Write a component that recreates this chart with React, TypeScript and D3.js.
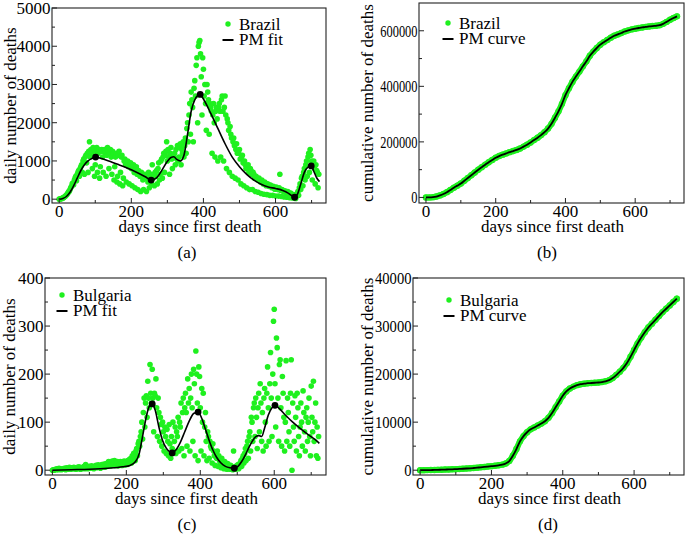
import React from 'react'
import * as d3 from 'd3'

type Pt = [number, number]

// daily series are sampled every DAY_STEP days, cumulative every CUM_STEP days
const DAY_STEP = 2
const CUM_STEP = 10

const dayTicks = [0, 200, 400, 600]
const dayMinorTicks = [100, 300, 500, 700]

const brazilDaily = [
  1, 5, 10, 15, 20, 30, 40, 55, 70, 90, 110, 130, 160, 190, 210,
  250, 300, 330, 400, 420, 380, 500, 550, 600, 480, 650, 700, 750, 600, 800,
  850, 900, 700, 1000, 1050, 650, 1100, 1150, 950, 1200, 700, 1250, 1500, 1100, 1300,
  1200, 800, 1350, 1300, 600, 900, 1250, 1350, 700, 1200, 1300, 550, 850, 1250, 1300,
  1100, 700, 1250, 1300, 1200, 600, 1150, 1350, 1250, 800, 1200, 1300, 1100, 650, 1250,
  1200, 500, 850, 1100, 1200, 450, 600, 1150, 1250, 400, 700, 1100, 1150, 350, 550,
  1000, 1050, 900, 450, 950, 1000, 850, 400, 900, 950, 800, 350, 850, 900, 700,
  300, 800, 850, 650, 250, 750, 700, 600, 200, 700, 650, 500, 250, 600, 650,
  550, 200, 600, 450, 700, 300, 500, 650, 400, 900, 550, 650, 350, 700, 600,
  750, 400, 800, 950, 500, 650, 1000, 1050, 550, 1100, 1200, 700, 1150, 1250, 1500,
  1000, 1300, 1100, 650, 1200, 1350, 1050, 800, 1150, 1100, 1200, 900, 1300, 1050, 1400,
  1000, 1100, 1350, 1450, 900, 1300, 1200, 1500, 1100, 1400, 1600, 1200, 1850, 2000, 1500,
  2200, 2500, 1700, 2800, 2600, 2400, 1500, 2900, 3100, 2700, 3500, 3700, 2000, 4000, 4100,
  4150, 3800, 3200, 2200, 3700, 3400, 2700, 3000, 2500, 1800, 3000, 2800, 2600, 1700, 2500,
  2400, 2300, 1200, 2200, 2500, 2000, 1100, 2300, 2400, 2100, 1000, 2400, 2500, 2300, 1100,
  2600, 2700, 2300, 1000, 2400, 2700, 2200, 800, 2100, 2000, 1800, 700, 1900, 1700, 1600,
  600, 1500, 1600, 1400, 550, 1300, 1450, 1200, 500, 1200, 1300, 1050, 400, 1100, 1150,
  950, 350, 1000, 900, 800, 300, 850, 900, 700, 250, 800, 750, 650, 250, 700,
  650, 550, 200, 600, 550, 500, 180, 550, 500, 450, 150, 500, 450, 400, 130,
  450, 400, 350, 120, 400, 380, 330, 100, 370, 330, 300, 100, 340, 300, 260,
  80, 320, 280, 250, 80, 300, 650, 230, 70, 250, 230, 200, 60, 220, 200,
  180, 50, 200, 170, 150, 40, 160, 130, 110, 30, 120, 100, 60, 20, 100,
  150, 200, 100, 300, 400, 250, 550, 600, 350, 700, 800, 500, 900, 1000, 600,
  1100, 1200, 700, 1300, 1150, 1000, 500, 950, 1000, 800, 400, 900, 750, 700, 300,
  650,
]

const bulgariaDaily = [
  0, 1, 0, 1, 2, 1, 3, 2, 1, 4, 2, 3, 1, 2, 3,
  2, 4, 3, 1, 5, 3, 2, 4, 6, 3, 2, 5, 4, 3, 6,
  3, 5, 2, 4, 6, 3, 7, 4, 2, 5, 3, 6, 4, 8, 3,
  12, 5, 7, 3, 6, 8, 4, 6, 9, 5, 7, 3, 8, 6, 10,
  5, 8, 11, 6, 9, 4, 10, 12, 7, 9, 13, 6, 11, 14, 8,
  12, 18, 10, 15, 9, 16, 19, 11, 14, 20, 10, 17, 13, 18, 9,
  15, 12, 18, 14, 10, 16, 13, 19, 11, 15, 17, 12, 20, 14, 22,
  18, 25, 15, 30, 22, 35, 28, 20, 40, 45, 30, 55, 60, 50, 70,
  80, 100, 65, 120, 150, 90, 140, 155, 110, 185, 150, 130, 220, 160, 140,
  210, 150, 80, 160, 155, 190, 130, 70, 150, 120, 60, 110, 95, 50, 100,
  80, 40, 90, 70, 35, 85, 60, 30, 95, 55, 25, 70, 45, 100, 40,
  60, 90, 35, 80, 70, 110, 40, 100, 90, 140, 45, 120, 150, 30, 130,
  160, 120, 50, 190, 140, 170, 40, 150, 200, 130, 60, 210, 180, 30, 248,
  200, 140, 20, 215, 195, 130, 40, 170, 100, 160, 30, 90, 120, 60, 20,
  80, 70, 25, 60, 50, 45, 15, 55, 40, 30, 10, 35, 25, 40, 8,
  30, 20, 15, 5, 25, 15, 10, 3, 18, 12, 8, 2, 14, 10, 6,
  2, 10, 8, 5, 1, 40, 6, 4, 2, 9, 7, 12, 3, 10, 15,
  20, 8, 25, 30, 15, 35, 45, 20, 50, 60, 25, 70, 80, 40, 110,
  100, 60, 130, 140, 70, 150, 110, 45, 130, 160, 80, 180, 140, 60, 120,
  40, 150, 170, 100, 50, 160, 215, 130, 60, 180, 245, 150, 70, 200, 310,
  335, 180, 90, 275, 255, 150, 60, 220, 230, 130, 50, 195, 160, 110, 40,
  100, 228, 60, 150, 120, 80, 50, 160, 230, 0, 140, 90, 60, 155, 110,
  40, 160, 130, 70, 30, 90, 140, 100, 50, 165, 120, 80, 40, 110, 130,
  60, 100, 150, 70, 30, 175, 110, 80, 185, 60, 100, 140, 30, 90, 25,
  70,
]

// PM fit (daily)
const brazilFitDays = [0, 10, 20, 30, 40, 50, 60, 70, 80, 90, 101, 110, 120, 140, 160, 180, 200, 220, 240, 255, 270, 285, 300, 310, 318, 326, 336, 346, 356, 366, 376, 391, 400, 420, 440, 460, 480, 500, 520, 540, 560, 580, 600, 620, 635, 645, 653, 660, 670, 680, 690, 699, 706, 714, 722]
const brazilFit = [0, 20, 70, 180, 350, 550, 750, 900, 1000, 1060, 1100, 1085, 1060, 990, 920, 850, 770, 680, 580, 500, 560, 760, 990, 1090, 1110, 1040, 1000, 1150, 1700, 2300, 2600, 2740, 2620, 2250, 1850, 1450, 1100, 850, 650, 500, 390, 320, 280, 230, 160, 90, 50, 110, 400, 700, 840, 870, 730, 560, 460]
const brazilKnotDays = [101, 255, 391, 653, 699]
const brazilKnotValues = [1100, 500, 2740, 50, 870]

const bulgariaFitDays = [0, 50, 100, 150, 190, 210, 225, 235, 245, 255, 262, 270, 278, 288, 298, 308, 316, 324, 334, 346, 358, 370, 382, 394, 404, 414, 424, 434, 444, 456, 468, 480, 492, 502, 512, 522, 532, 542, 550, 558, 566, 574, 584, 594, 602, 614, 630, 650, 670, 690, 710, 722]
const bulgariaFit = [0, 1, 2, 4, 7, 10, 18, 35, 75, 115, 133, 138, 125, 90, 62, 46, 39, 36, 42, 58, 80, 102, 118, 121, 108, 85, 62, 42, 27, 15, 8, 5, 4, 8, 18, 32, 48, 62, 70, 72, 70, 88, 115, 130, 135, 128, 115, 100, 87, 75, 64, 56]
const bulgariaKnotDays = [270, 324, 394, 492, 602]
const bulgariaKnotValues = [138, 36, 121, 4, 135]

// cumulative deaths, every 10 days
const brazilCumulative = [
  0, 100, 1000, 3300, 7300, 12400, 19000, 27000, 35000, 42500,
  50000, 60000, 70000, 80000, 90000, 100000, 109000, 118000, 127000, 135000,
  143000, 149000, 154000, 158500, 163000, 167000, 171000, 176000, 183000, 190000,
  198000, 206500, 215000, 224500, 235000, 248000, 265000, 287000, 310000, 337000,
  368000, 393000, 416000, 435000, 453000, 472000, 490000, 510000, 525000, 538000,
  550000, 559000, 567000, 575000, 582000, 587000, 592000, 597500, 601500, 605000,
  607500, 610000, 612000, 614000, 615500, 617000, 618000, 620000, 625000, 632000,
  639500, 646000, 652000,
]

const bulgariaCumulative = [
  0, 5, 15, 30, 50, 75, 100, 130, 160, 190,
  220, 260, 300, 350, 400, 460, 530, 600, 680, 760,
  840, 920, 1020, 1150, 1400, 1900, 3000, 4400, 6000, 7100,
  7900, 8500, 8900, 9300, 9700, 10200, 10900, 11900, 13100, 14300,
  15500, 16400, 17000, 17400, 17700, 17900, 18000, 18100, 18150, 18200,
  18250, 18350, 18500, 18750, 19200, 19800, 20500, 21300, 22300, 23600,
  25000, 26400, 27600, 28700, 29700, 30500, 31300, 32100, 32900, 33600,
  34300, 35000, 35700,
]

const GREEN = '#1ff01f'
const FONT = '"Liberation Serif", "Times New Roman", Times, serif'
const FS = 17

const stepped = (vals: number[], step: number): Pt[] => vals.map((v, i) => [i * step, v])
const pair = (days: number[], vals: number[]): Pt[] => vals.map((v, i) => [days[i], v])

const panels = [
  {
    key: 'a', left: 52, right: 326, top: 8, bottom: 203,
    yDomain: [-100, 5000], yTicks: [0, 1000, 2000, 3000, 4000, 5000], yMinor: [500, 1500, 2500, 3500, 4500],
    digitW: 0, yTitle: 'daily number of deaths', yTitleX: 10, label: '(a)', labelX: 187,
    country: 'Brazil', curveName: 'PM fit', legendX: 228, legendY: 24,
    dots: stepped(brazilDaily, DAY_STEP), curve: pair(brazilFitDays, brazilFit),
    knots: pair(brazilKnotDays, brazilKnotValues), cumulative: false,
  },
  {
    key: 'b', left: 419, right: 684, top: 3, bottom: 203,
    yDomain: [-20000, 700000], yTicks: [0, 200000, 400000, 600000], yMinor: [100000, 300000, 500000],
    digitW: 6.2, yTitle: 'cumulative number of deaths', yTitleX: 367, label: '(b)', labelX: 547,
    country: 'Brazil', curveName: 'PM curve', legendX: 448, legendY: 23,
    dots: stepped(brazilCumulative, CUM_STEP), curve: stepped(brazilCumulative, CUM_STEP),
    knots: [] as Pt[], cumulative: true,
  },
  {
    key: 'c', left: 45, right: 326, top: 278, bottom: 475,
    yDomain: [-10, 400], yTicks: [0, 100, 200, 300, 400], yMinor: [50, 150, 250, 350],
    digitW: 0, yTitle: 'daily number of deaths', yTitleX: 9, label: '(c)', labelX: 187,
    country: 'Bulgaria', curveName: 'PM fit', legendX: 62, legendY: 295,
    dots: stepped(bulgariaDaily, DAY_STEP), curve: pair(bulgariaFitDays, bulgariaFit),
    knots: pair(bulgariaKnotDays, bulgariaKnotValues), cumulative: false,
  },
  {
    key: 'd', left: 413, right: 684, top: 278, bottom: 475,
    yDomain: [-1000, 40000], yTicks: [0, 10000, 20000, 30000, 40000], yMinor: [5000, 15000, 25000, 35000],
    digitW: 7.3, yTitle: 'cumulative number of deaths', yTitleX: 367, label: '(d)', labelX: 548,
    country: 'Bulgaria', curveName: 'PM curve', legendX: 449, legendY: 300,
    dots: stepped(bulgariaCumulative, CUM_STEP), curve: stepped(bulgariaCumulative, CUM_STEP),
    knots: [] as Pt[], cumulative: true,
  },
]

function Panel({ p }: { p: typeof panels[number] }) {
  const x = d3.scaleLinear().domain([-20, 740]).range([p.left, p.right])
  const y = d3.scaleLinear().domain(p.yDomain).range([p.bottom, p.top])
  const line = d3.line<Pt>().x(d => x(d[0])).y(d => y(d[1])).curve(d3.curveMonotoneX)
  const midY = (p.top + p.bottom) / 2
  const clipId = `clip-${p.key}`

  return (
    <g fontFamily={FONT} fill="#000">
      <defs>
        <clipPath id={clipId}>
          <rect x={p.left} y={p.top} width={p.right - p.left} height={p.bottom - p.top} />
        </clipPath>
      </defs>
      <g clipPath={`url(#${clipId})`}>
        {p.cumulative && (
          <path d={line(p.dots) || ''} fill="none" stroke={GREEN} strokeWidth={6} strokeLinecap="round" />
        )}
        {p.dots.map((d, i) => (
          <circle key={i} cx={x(d[0])} cy={y(d[1])} r={p.cumulative ? 3.2 : 2.8} fill={GREEN} />
        ))}
        <path d={line(p.curve) || ''} fill="none" stroke="#000" strokeWidth={p.cumulative ? 1.8 : 1.6} />
        {p.knots.map((d, i) => (
          <circle key={i} cx={x(d[0])} cy={y(d[1])} r={3.4} fill="#000" />
        ))}
      </g>

      <rect x={p.left} y={p.top} width={p.right - p.left} height={p.bottom - p.top}
        fill="none" stroke="#222" strokeWidth={1.1} />

      {dayTicks.map(t => (
        <g key={`xt${t}`}>
          <line x1={x(t)} x2={x(t)} y1={p.bottom} y2={p.bottom - 5} stroke="#222" />
          <text x={x(t)} y={p.bottom + 13.5} textAnchor="middle" fontSize={FS}>{t}</text>
        </g>
      ))}
      {dayMinorTicks.map(t => (
        <line key={`xm${t}`} x1={x(t)} x2={x(t)} y1={p.bottom} y2={p.bottom - 3} stroke="#222" />
      ))}
      {p.yTicks.map(t => {
        const s = String(t)
        return (
          <g key={`yt${t}`}>
            <line x1={p.left} x2={p.left + 5} y1={y(t)} y2={y(t)} stroke="#222" />
            <text x={p.left - 1.5} y={y(t)} dy="0.35em" textAnchor="end" fontSize={FS}
              {...(p.digitW ? { textLength: s.length * p.digitW, lengthAdjust: 'spacingAndGlyphs' } : {})}>
              {s}
            </text>
          </g>
        )
      })}
      {p.yMinor.map(t => (
        <line key={`ym${t}`} x1={p.left} x2={p.left + 3} y1={y(t)} y2={y(t)} stroke="#222" />
      ))}

      <text x={(p.left + p.right) / 2 + 1} y={p.bottom + 29} textAnchor="middle" fontSize={FS}>
        days since first death
      </text>
      <text transform={`translate(${p.yTitleX},${midY}) rotate(-90)`} textAnchor="middle" dy="0.35em" fontSize={FS}>
        {p.yTitle}
      </text>
      <text x={p.labelX} y={p.bottom + 55} textAnchor="middle" fontSize={17}>{p.label}</text>

      {/* legend */}
      <circle cx={p.legendX} cy={p.legendY} r={2.7} fill={GREEN} />
      <text x={p.legendX + 11} y={p.legendY + 5.5} fontSize={FS}>{p.country}</text>
      <line x1={p.legendX - 5.5} x2={p.legendX + 5.5} y1={p.legendY + 16} y2={p.legendY + 16} stroke="#000" strokeWidth={2} />
      <text x={p.legendX + 11} y={p.legendY + 21} fontSize={FS}>{p.curveName}</text>
    </g>
  )
}

export default function App() {
  return (
    <svg width={685} height={536} style={{ position: 'absolute', left: 0, top: 0, background: '#fff' }}>
      {panels.map(p => <Panel key={p.key} p={p} />)}
    </svg>
  )
}
